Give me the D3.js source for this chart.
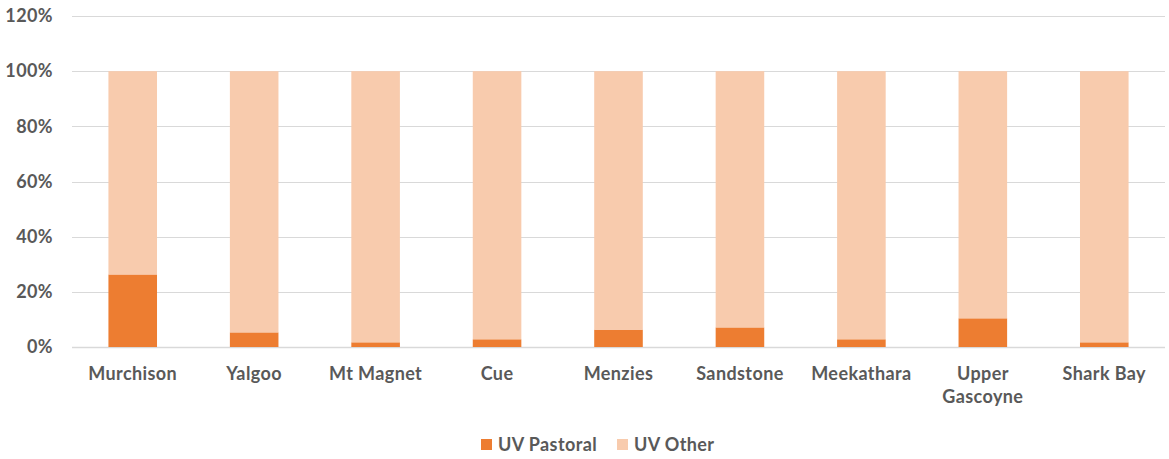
<!DOCTYPE html>
<html>
<head>
<meta charset="utf-8">
<script src="https://cdn.jsdelivr.net/npm/d3@7"></script>
<style>
  body { margin: 0; background: #fff; }
  svg text { font-family: Lato, "Open Sans", sans-serif; font-weight: bold; fill: #595959; letter-spacing: 0.4px; }
</style>
</head>
<body>
<svg id="chart" width="1169" height="459"></svg>
<script>
// shire names (use \n to break a label over two lines)
var categories = ["Murchison", "Yalgoo", "Mt Magnet", "Cue", "Menzies", "Sandstone", "Meekathara", "Upper\nGascoyne", "Shark Bay"];
// share of UV Pastoral, in percent
var uvPastoral = [26.3, 5.3, 1.7, 2.8, 6.3, 7.1, 2.8, 10.4, 1.7];
// share of UV Other, in percent
var uvOther = [73.7, 94.7, 98.3, 97.2, 93.7, 92.9, 97.2, 89.6, 98.3];
var yTicks = [0, 20, 40, 60, 80, 100, 120];
var seriesNames = ["UV Pastoral", "UV Other"];
var seriesColors = ["#ED7D31", "#F8CBAD"];

var svg = d3.select("#chart"),
  margin = { top: 16, right: 4, bottom: 112, left: 72 },
  width = +svg.attr("width") - margin.left - margin.right,
  height = +svg.attr("height") - margin.top - margin.bottom,
  g = svg.append("g")
    .attr("transform", "translate(" + margin.left + "," + margin.top + ")");

var rows = categories.map(function (c, i) {
  return { name: c, "UV Pastoral": uvPastoral[i], "UV Other": uvOther[i] };
});

var x = d3.scaleBand()
  .domain(categories)
  .range([0, width])
  .paddingInner(0.6)
  .paddingOuter(0.3);

var y = d3.scaleLinear()
  .domain([0, 120])
  .range([height, 0]);

var z = d3.scaleOrdinal().domain(seriesNames).range(seriesColors);

// gridlines
g.append("g")
  .selectAll("line")
  .data(yTicks)
  .enter()
  .append("line")
  .attr("x1", 0)
  .attr("x2", width)
  .attr("y1", function (d) { return Math.round(y(d)) + 0.5; })
  .attr("y2", function (d) { return Math.round(y(d)) + 0.5; })
  .attr("stroke", "#d9d9d9")
  .attr("stroke-width", function (d) { return d === 0 ? 1.5 : 1; });

// stacked bars
g.append("g")
  .selectAll("g")
  .data(d3.stack().keys(seriesNames)(rows))
  .enter()
  .append("g")
  .attr("fill", function (d) { return z(d.key); })
  .selectAll("rect")
  .data(function (d) { return d; })
  .enter()
  .append("rect")
  .attr("x", function (d) { return x(d.data.name); })
  .attr("y", function (d) { return y(d[1]); })
  .attr("width", x.bandwidth())
  .attr("height", function (d) { return y(d[0]) - y(d[1]); });

// y axis labels
var yAxis = g.append("g")
  .call(d3.axisLeft(y).tickValues(yTicks).tickFormat(function (d) { return d + "%"; }).tickSize(0).tickPadding(19));
yAxis.select(".domain").remove();
yAxis.selectAll("text").attr("font-size", 18).style("font-family", "Lato, sans-serif");

// x axis labels
var xAxis = g.append("g")
  .attr("transform", "translate(0," + height + ")")
  .call(d3.axisBottom(x).tickSize(0).tickPadding(0).tickFormat(""));
xAxis.select(".domain").remove();
xAxis.selectAll(".tick").each(function (d) {
  var lines = d.split("\n");
  var t = d3.select(this).append("text")
    .attr("text-anchor", "middle")
    .attr("font-size", 18)
    .attr("y", 33);
  lines.forEach(function (line, i) {
    t.append("tspan").attr("x", 0).attr("dy", i === 0 ? 0 : 23).text(line);
  });
});

// legend
var legend = svg.append("g").attr("transform", "translate(0,445)");
var items = [
  { key: "UV Pastoral", x: 481 },
  { key: "UV Other", x: 617 }
];
var li = legend.selectAll("g")
  .data(items)
  .enter()
  .append("g")
  .attr("transform", function (d) { return "translate(" + d.x + ",0)"; });
li.append("rect")
  .attr("y", -6)
  .attr("width", 11)
  .attr("height", 11)
  .attr("fill", function (d) { return z(d.key); });
li.append("text")
  .attr("x", 17)
  .attr("dy", "0.35em")
  .attr("font-size", 18)
  .text(function (d) { return d.key; });
</script>
</body>
</html>
